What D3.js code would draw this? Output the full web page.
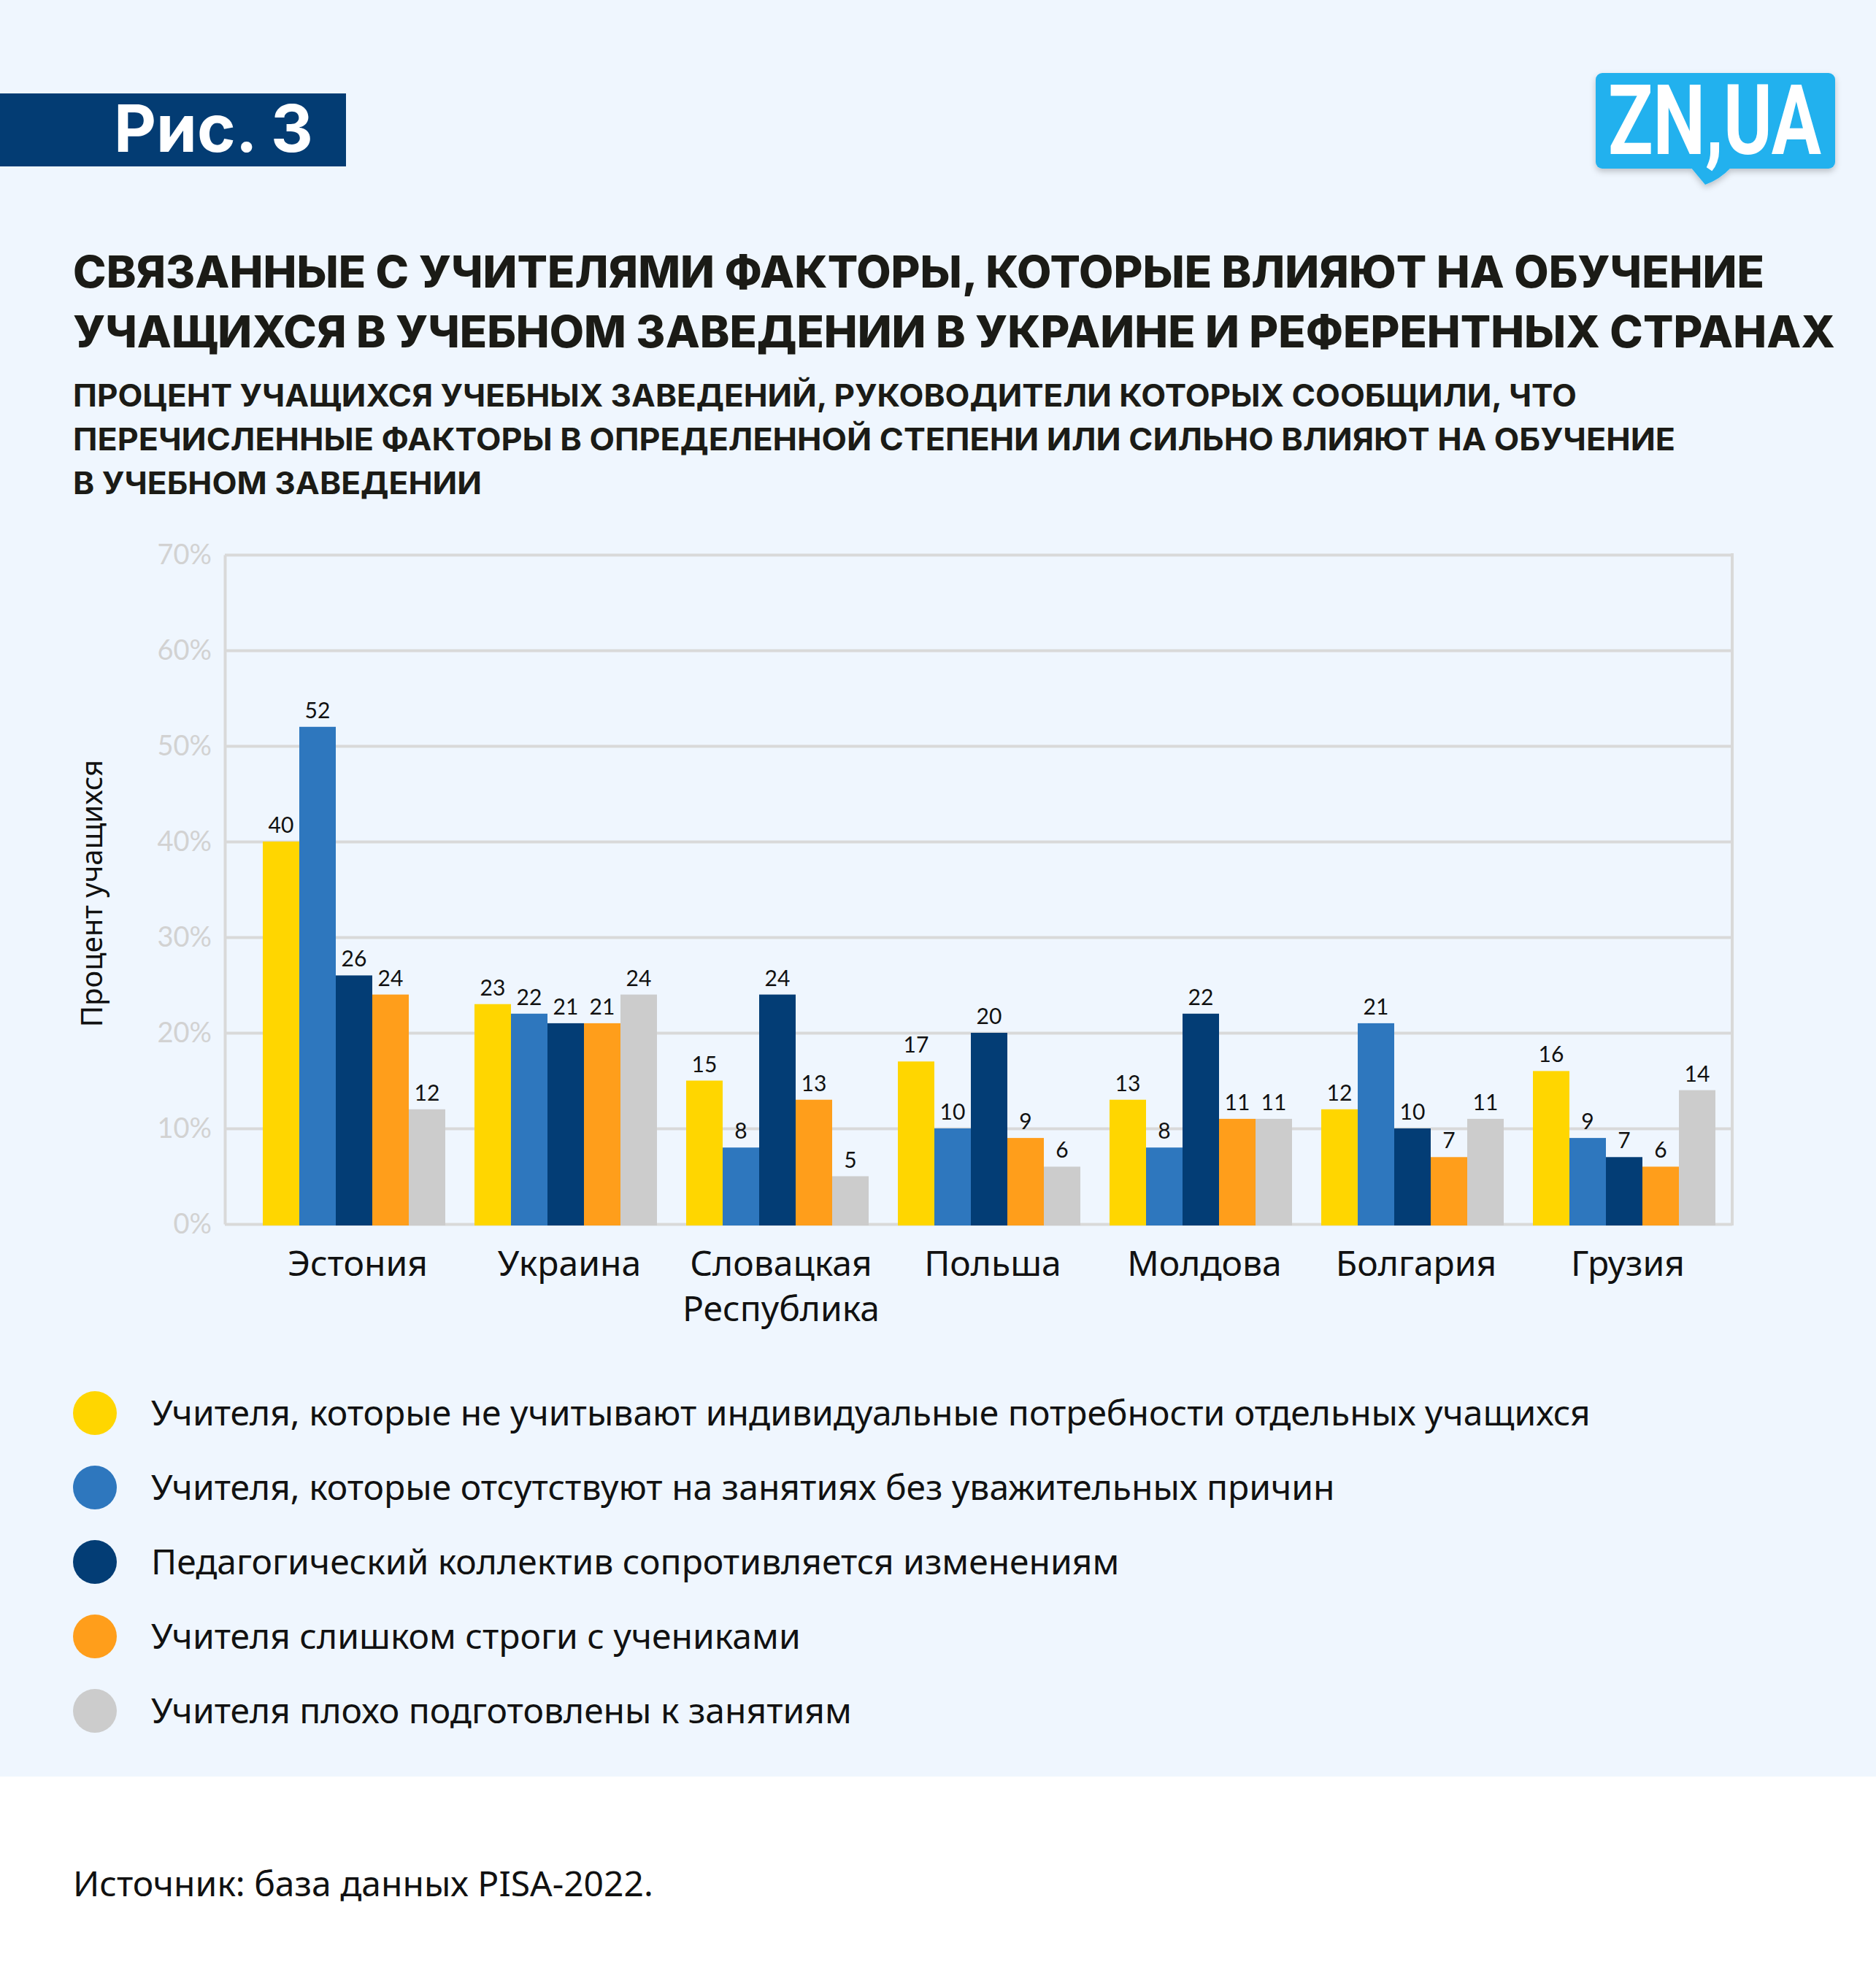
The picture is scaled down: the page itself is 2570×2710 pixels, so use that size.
<!DOCTYPE html>
<html>
<head>
<meta charset="utf-8">
<script src="https://cdn.jsdelivr.net/npm/d3@7"></script>
<style>
  body { margin: 0; background: #fff; }
  svg { display: block; }
</style>
</head>
<body>
<script>
// data
const countries = ["Эстония", "Украина", "Словацкая\nРеспублика", "Польша", "Молдова", "Болгария", "Грузия"];
const seriesNames = [
  "Учителя, которые не учитывают индивидуальные потребности отдельных учащихся",
  "Учителя, которые отсутствуют на занятиях без уважительных причин",
  "Педагогический коллектив сопротивляется изменениям",
  "Учителя слишком строги с учениками",
  "Учителя плохо подготовлены к занятиям"
];
const ignoreNeeds   = [40, 23, 15, 17, 13, 12, 16];
const absentTeachers = [52, 22, 8, 10, 8, 21, 9];
const resistChange  = [26, 21, 24, 20, 22, 10, 7];
const tooStrict     = [24, 21, 13, 9, 11, 7, 6];
const unprepared    = [12, 24, 5, 6, 11, 11, 14];
const yTicks = [0, 10, 20, 30, 40, 50, 60, 70];

const series = [ignoreNeeds, absentTeachers, resistChange, tooStrict, unprepared];
const colors = ["#FFD600", "#2E77BE", "#033D75", "#FF9E1B", "#CCCCCC"];

const W = 2570, H = 2710;
const svg = d3.select("body").append("svg").attr("width", W).attr("height", H);

// background panel
svg.append("rect").attr("width", W).attr("height", H).attr("fill", "#fff");
svg.append("rect").attr("width", W).attr("height", 2434).attr("fill", "#EFF6FE");

// "Рис. 3" banner
svg.append("rect").attr("x", 0).attr("y", 128).attr("width", 474).attr("height", 100).attr("fill", "#033C73");
svg.append("text").attr("x", 156).attr("y", 208)
  .attr("font-family", "Inter, Roboto, sans-serif").attr("font-weight", 700)
  .attr("font-size", 90).attr("fill", "#fff")
  .attr("textLength", 273).attr("lengthAdjust", "spacingAndGlyphs")
  .text("Рис. 3");

// logo
const defs = svg.append("defs");
const f = defs.append("filter").attr("id", "sh").attr("x", "-10%").attr("y", "-10%").attr("width", "120%").attr("height", "140%");
f.append("feDropShadow").attr("dx", 0).attr("dy", 4).attr("stdDeviation", 4).attr("flood-color", "#000").attr("flood-opacity", 0.22);
const logo = svg.append("g").attr("filter", "url(#sh)");
logo.append("rect").attr("x", 2186).attr("y", 100).attr("width", 328).attr("height", 131).attr("rx", 9).attr("fill", "#21B1EE");
logo.append("path").attr("d", "M2316,229 L2336,253 Q2356,246 2372,229 Z").attr("fill", "#21B1EE");
const logoText = svg.append("text").attr("x", 0).attr("y", 0)
  .attr("font-family", "Roboto, 'Open Sans', sans-serif").attr("font-weight", 700)
  .attr("font-size", 134).attr("fill", "#fff")
  .text("ZN,UA");
// squeeze the wordmark horizontally to the logo width
const logoLen = logoText.node().getComputedTextLength();
logoText.attr("transform", `translate(2203,211) scale(${292 / logoLen},1)`);

// titles
const titleLines = [
  ["СВЯЗАННЫЕ С УЧИТЕЛЯМИ ФАКТОРЫ, КОТОРЫЕ ВЛИЯЮТ НА ОБУЧЕНИЕ", 394, 2317],
  ["УЧАЩИХСЯ В УЧЕБНОМ ЗАВЕДЕНИИ В УКРАИНЕ И РЕФЕРЕНТНЫХ СТРАНАХ", 476, 2414]
];
svg.selectAll("text.title").data(titleLines).enter().append("text")
  .attr("class", "title")
  .attr("x", 100).attr("y", d => d[1])
  .attr("font-family", "Inter, Roboto, sans-serif").attr("font-weight", 800)
  .attr("font-size", 60).attr("fill", "#1B1B16")
  .attr("textLength", d => d[2]).attr("lengthAdjust", "spacingAndGlyphs")
  .text(d => d[0]);

const subLines = [
  ["ПРОЦЕНТ УЧАЩИХСЯ УЧЕБНЫХ ЗАВЕДЕНИЙ, РУКОВОДИТЕЛИ КОТОРЫХ СООБЩИЛИ, ЧТО", 557, 2060],
  ["ПЕРЕЧИСЛЕННЫЕ ФАКТОРЫ В ОПРЕДЕЛЕННОЙ СТЕПЕНИ ИЛИ СИЛЬНО ВЛИЯЮТ НА ОБУЧЕНИЕ", 617, 2195],
  ["В УЧЕБНОМ ЗАВЕДЕНИИ", 677, 560]
];
svg.selectAll("text.sub").data(subLines).enter().append("text")
  .attr("class", "sub")
  .attr("x", 100).attr("y", d => d[1])
  .attr("font-family", "Inter, Roboto, sans-serif").attr("font-weight", 700)
  .attr("font-size", 42).attr("fill", "#1B1B16")
  .attr("textLength", d => d[2]).attr("lengthAdjust", "spacingAndGlyphs")
  .text(d => d[0]);

// chart
const plotLeft = 308, plotRight = 2373, plotTop = 760, plotBottom = 1677;
const x = d3.scaleBand().domain(countries).range([340, 2370]).paddingInner(40 / 290).paddingOuter(20 / 290);
const xs = d3.scaleBand().domain(d3.range(series.length)).range([0, x.bandwidth()]);
const y = d3.scaleLinear().domain([0, 70]).range([plotBottom, plotTop]);

const gridColor = "#D9D9D9";
const axis = svg.append("g").attr("transform", `translate(${plotLeft},0)`)
  .call(d3.axisLeft(y).tickValues(yTicks).tickFormat(d => d + "%")
    .tickSize(-(plotRight - plotLeft)).tickSizeOuter(0).tickPadding(18));
axis.select(".domain").attr("stroke", gridColor).attr("stroke-width", 4);
axis.selectAll(".tick line").attr("stroke", gridColor).attr("stroke-width", 4);
axis.selectAll(".tick text")
  .attr("font-family", "Lato, 'Noto Sans', sans-serif").attr("font-size", 38)
  .attr("fill", "#D2D2D2");
svg.append("line").attr("x1", plotRight).attr("x2", plotRight).attr("y1", plotTop - 2).attr("y2", plotBottom + 2)
  .attr("stroke", gridColor).attr("stroke-width", 4);

const groups = svg.append("g").selectAll("g").data(countries).enter().append("g")
  .attr("transform", d => `translate(${x(d)},0)`);

groups.selectAll("rect").data((d, ci) => series.map((s, si) => ({ si, v: s[ci] })))
  .enter().append("rect")
  .attr("x", d => xs(d.si)).attr("width", xs.bandwidth())
  .attr("y", d => y(d.v)).attr("height", d => y(0) - y(d.v) + 2)
  .attr("fill", d => colors[d.si]);

groups.selectAll("text.val").data((d, ci) => series.map((s, si) => ({ si, v: s[ci] })))
  .enter().append("text").attr("class", "val")
  .attr("x", d => xs(d.si) + xs.bandwidth() / 2).attr("y", d => y(d.v) - 12)
  .attr("text-anchor", "middle")
  .attr("font-family", "Lato, 'Noto Sans', sans-serif").attr("font-size", 30)
  .attr("fill", "#111")
  .text(d => d.v);

// category labels
groups.each(function (d) {
  const t = d3.select(this).append("text")
    .attr("text-anchor", "middle")
    .attr("font-family", "'Noto Sans', sans-serif").attr("font-size", 48)
    .attr("fill", "#111");
  d.split("\n").forEach((line, i) => {
    t.append("tspan").attr("x", x.bandwidth() / 2 + 5).attr("y", 1748 + i * 62).text(line);
  });
});

// y axis title
svg.append("text").attr("transform", "translate(140,1224) rotate(-90)")
  .attr("text-anchor", "middle")
  .attr("font-family", "'Noto Sans', sans-serif").attr("font-size", 40)
  .attr("fill", "#111")
  .text("Процент учащихся");

// legend
const legend = svg.append("g").selectAll("g").data(seriesNames).enter().append("g")
  .attr("transform", (d, i) => `translate(0,${1936 + i * 102})`);
legend.append("circle").attr("cx", 130).attr("cy", 0).attr("r", 30).attr("fill", (d, i) => colors[i]);
legend.append("text").attr("x", 207).attr("y", 17)
  .attr("font-family", "'Noto Sans', sans-serif").attr("font-size", 48)
  .attr("fill", "#111")
  .text(d => d);

// source
svg.append("text").attr("x", 100).attr("y", 2598)
  .attr("font-family", "'Noto Sans', sans-serif").attr("font-size", 48)
  .attr("fill", "#111")
  .text("Источник: база данных PISA-2022.");
</script>
</body>
</html>
